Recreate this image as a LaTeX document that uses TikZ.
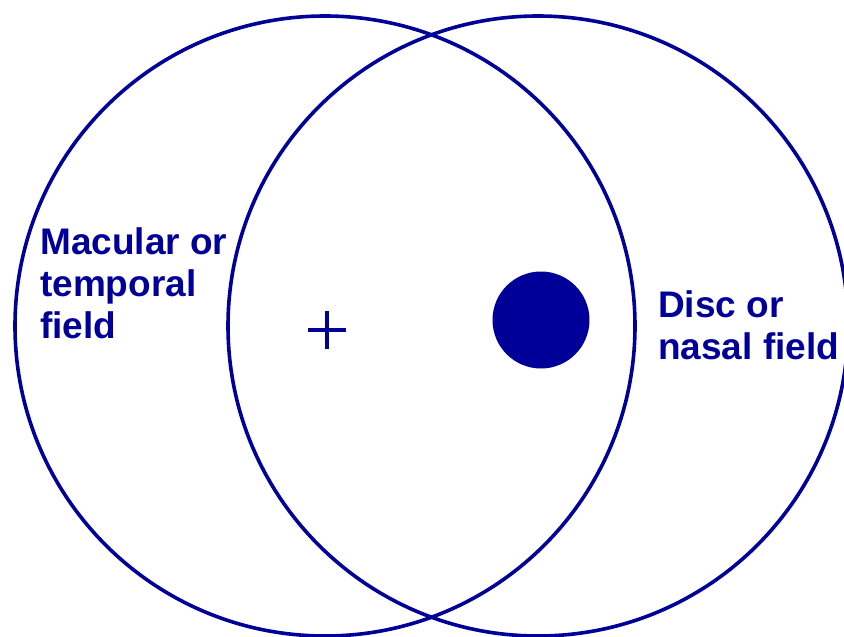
\documentclass[tikz,border=0pt]{standalone}
\usepackage{fontspec}
\setmainfont{Liberation Sans}
\definecolor{fieldblue}{RGB}{0,0,153}

\begin{document}
\begin{tikzpicture}[x=1pt,y=-1pt,
  fieldtext/.style={anchor=base west,inner sep=0pt,align=left,text=fieldblue,
    font=\fontsize{37}{42}\selectfont\bfseries}]
\clip (0,0) rectangle (844,637);
\draw[fieldblue, line width=3.6pt] (325,326) circle (310);
\draw[fieldblue, line width=3.6pt] (538,326) circle (310);
\fill[fieldblue] (541,320) circle (48.5);
\draw[fieldblue, line width=3.6pt] (308,330) -- (346,330) (327,311) -- (327,349);
\node[fieldtext] (macular) at (40,338) {Macular or\\temporal\\field};
\node[fieldtext] (disc) at (658,359) {Disc or\\nasal field};
\end{tikzpicture}
\end{document}
